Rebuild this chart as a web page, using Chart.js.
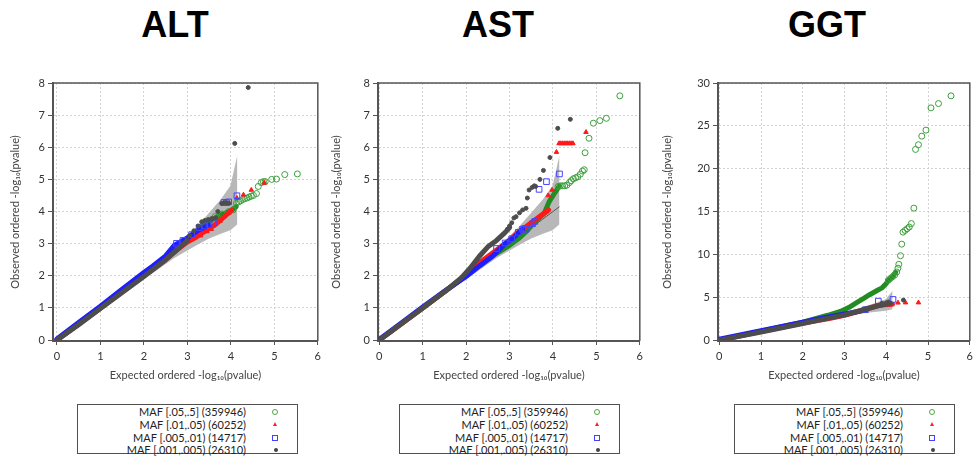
<!DOCTYPE html>
<html><head><meta charset="utf-8">
<script src="https://cdn.jsdelivr.net/npm/chart.js@4.4.0/dist/chart.umd.min.js"></script>
<style>
html,body{margin:0;padding:0;background:#fff;}
body{width:978px;height:457px;overflow:hidden;position:relative;font-family:Lato,'Open Sans',sans-serif;}
.ttl{position:absolute;top:7px;width:200px;text-align:center;font:bold 36px 'Liberation Sans',Arial,sans-serif;line-height:36px;color:#000;}
canvas{position:absolute;top:0;}
.leg{position:absolute;top:404px;width:219px;height:48px;border:1.5px solid #505050;background:#fff;}
.row{position:absolute;left:0;width:100%;height:13px;}
.row span{position:absolute;right:51px;top:0;font-size:11px;line-height:13px;color:#222;white-space:nowrap;}
.mk{position:absolute;box-sizing:border-box;}
.mk.g{left:194px;top:4px;width:6px;height:6px;border:1px solid #4aa84a;border-radius:50%;}
.mk.r{left:195px;top:4px;width:0;height:0;border-left:2.5px solid transparent;border-right:2.5px solid transparent;border-bottom:4px solid #ff2020;}
.mk.b{left:194px;top:4px;width:6px;height:6px;border:1px solid #4040ff;}
.mk.k{left:195.5px;top:5px;width:4px;height:4px;border-radius:50%;background:#444;}
</style>
</head><body>
<div class="ttl" style="left:75px">ALT</div>
<div class="ttl" style="left:398px">AST</div>
<div class="ttl" style="left:727px">GGT</div>
<canvas id="c1" width="326" height="395" style="left:0"></canvas>
<canvas id="c2" width="328" height="395" style="left:320px"></canvas>
<canvas id="c3" width="328" height="395" style="left:650px"></canvas>
<div id="legends"></div>
<script>
// ---------- axis ticks ----------
const X_TICKS = [0, 1, 2, 3, 4, 5, 6];
const Y_TICKS_8 = [0, 1, 2, 3, 4, 5, 6, 7, 8];
const Y_TICKS_30 = [0, 5, 10, 15, 20, 25, 30];

// ---------- legend ----------
const LEGEND_LABELS = ['MAF [.05,.5] (359946)', 'MAF [.01,.05) (60252)', 'MAF [.005,.01) (14717)', 'MAF [.001,.005) (26310)'];
const PANEL_TITLES = ['ALT', 'AST', 'GGT'];

// ---------- 95% confidence band (expected) ----------
const BAND_X  = [0, 1, 2, 2.2, 2.7, 3.2, 3.5, 3.77, 3.99, 4.15];
const BAND_UP = [0, 1.05, 2.1, 2.3, 2.86, 3.5, 3.96, 4.38, 4.8, 5.75];
const BAND_LO = [0, 0.95, 1.93, 2.08, 2.55, 2.94, 3.16, 3.31, 3.42, 3.6];
const EXPECTED = [[0, 0], [4.15, 4.15]];

// ---------- ALT ----------
const altGreenPath = [[0,0],[1,1.0],[2,2.02],[2.5,2.52],[3.0,3.1],[3.4,3.6],[3.7,3.85],[4.0,4.02],[4.12,4.15]];
const altGreenPts  = [[3.64,3.84],[3.8,3.92],[3.95,4.0],[4.05,4.05],[4.13,4.26],[4.18,4.3],[4.22,4.33],[4.27,4.37],[4.32,4.4],[4.37,4.42],[4.42,4.45],[4.47,4.48],[4.52,4.5],[4.59,4.56],[4.63,4.78],[4.7,4.9],[4.75,4.93],[4.79,4.93],[4.94,5.0],[5.05,5.01],[5.24,5.15],[5.53,5.17]];
const altRedPath   = [[0,0],[1,1.0],[2,2.0],[2.5,2.5],[2.8,2.85],[3.0,3.05],[3.2,3.2],[3.4,3.38],[3.6,3.55],[3.8,3.78],[4.0,4.02]];
const altRedPts    = [[3.3,3.25],[3.45,3.38],[3.55,3.45],[3.65,3.6],[3.75,3.7],[3.85,3.85],[3.95,3.95],[4.02,4.05],[4.14,4.42],[4.29,4.52],[4.47,4.67],[4.77,4.89]];
const altBluePath  = [[0,0.03],[0.5,0.55],[1,1.05],[1.5,1.58],[2,2.1],[2.2,2.3],[2.5,2.62],[2.7,2.95],[2.8,3.02],[3.0,3.18],[3.25,3.42],[3.5,3.58]];
const altBluePts   = [[2.75,3.01],[2.9,3.1],[3.1,3.28],[3.27,3.5],[3.4,3.55],[3.5,3.6],[3.6,3.65],[3.84,4.28],[3.9,4.28],[3.95,4.3],[4.14,4.49]];
const altGrayPath  = [[0,0],[0.5,0.48],[1,0.98],[1.5,1.48],[2,1.98],[2.5,2.5],[2.8,2.85],[3.0,3.1]];
const altGrayPts   = [[3.05,3.25],[3.15,3.4],[3.25,3.55],[3.33,3.68],[3.4,3.72],[3.48,3.75],[3.56,3.78],[3.65,3.8],[3.7,4.0],[3.79,4.25],[3.85,4.27],[3.9,4.27],[3.95,4.26],[4.09,6.12],[4.4,7.86]];

// ---------- AST ----------
const astGreenPath = [[0,0],[1,1.0],[2,2.0],[2.4,2.45],[2.7,2.7],[3.0,2.95],[3.2,3.15],[3.4,3.4],[3.6,3.7],[3.8,3.95],[3.91,4.3],[4.05,4.6],[4.15,4.8]];
const astGreenPts  = [[4.12,4.78],[4.17,4.8],[4.22,4.8],[4.27,4.8],[4.32,4.82],[4.38,4.9],[4.42,4.96],[4.47,5.02],[4.52,5.05],[4.57,5.08],[4.63,5.16],[4.68,5.26],[4.72,5.3],[4.74,5.83],[4.83,6.28],[4.93,6.75],[5.08,6.83],[5.23,6.9],[5.54,7.6]];
const astRedPath   = [[0,0],[1,1.0],[2,2.02],[2.2,2.3],[2.4,2.5],[2.6,2.7],[2.8,2.9],[3.0,3.1],[3.2,3.35],[3.4,3.55],[3.6,3.75],[3.8,3.95],[3.9,4.05]];
const astRedPts    = [[3.5,3.65],[3.65,3.8],[3.75,3.9],[3.85,4.0],[3.89,4.5],[3.98,4.67],[4.08,5.85],[4.14,6.12],[4.18,6.12],[4.22,6.12],[4.26,6.12],[4.3,6.12],[4.34,6.12],[4.38,6.12],[4.42,6.12],[4.46,6.12],[4.76,6.47]];
const astBluePath  = [[0,0.02],[0.5,0.52],[1,1.03],[1.5,1.52],[2,1.98],[2.3,2.3],[2.6,2.6],[2.9,3.0],[3.1,3.2],[3.3,3.45]];
const astBluePts   = [[2.7,2.85],[2.9,3.02],[3.05,3.15],[3.2,3.35],[3.3,3.45],[3.35,3.47],[3.38,3.45],[3.53,3.62],[3.58,3.69],[3.68,4.69],[3.85,4.93],[4.15,5.17]];
const astGrayPath  = [[0,0],[0.5,0.5],[1,1.0],[1.5,1.5],[1.9,1.95],[2.1,2.25],[2.3,2.6],[2.5,2.9],[2.7,3.1],[2.9,3.35],[3.0,3.5]];
const astGrayPts   = [[2.95,3.45],[3.0,3.55],[3.05,3.65],[3.1,3.8],[3.15,3.84],[3.23,3.96],[3.3,4.05],[3.38,4.1],[3.41,4.42],[3.45,4.67],[3.52,4.75],[3.57,4.8],[3.6,4.78],[3.7,5.0],[3.78,5.28],[3.93,5.68],[4.11,6.59],[4.4,6.87]];

// ---------- GGT ----------
const ggtGreenPath = [[0,0],[1,1.05],[2,2.1],[2.6,2.9],[2.9,3.35],[3.1,3.8],[3.3,4.4],[3.45,4.85],[3.6,5.3],[3.8,5.85],[3.9,6.1],[4.0,6.6],[4.05,7.0],[4.15,7.4],[4.22,7.9]];
const ggtGreenPts  = [[4.05,7.0],[4.1,7.2],[4.15,7.4],[4.2,7.6],[4.25,7.95],[4.28,8.4],[4.30,8.85],[4.34,9.85],[4.37,11.2],[4.4,12.6],[4.45,12.8],[4.5,13.0],[4.55,13.2],[4.6,13.6],[4.66,15.4],[4.70,22.25],[4.77,22.8],[4.85,23.8],[4.95,24.5],[5.07,27.1],[5.25,27.6],[5.55,28.5]];
const ggtRedPath   = [[0,0],[1,1.0],[2,2.0],[2.6,2.5],[3.0,2.9],[3.3,3.3],[3.6,3.75],[3.85,4.1],[4.15,4.2]];
const ggtRedPts    = [[3.9,4.15],[4.0,4.2],[4.1,4.2],[4.28,4.36],[4.46,4.38],[4.77,4.38]];
const ggtBluePath  = [[0,0.1],[1,1.1],[2,2.1],[2.5,2.6],[3.0,3.05],[3.5,3.5]];
const ggtBluePts   = [[3.5,3.55],[3.81,4.55],[4.16,4.75]];
const ggtGrayPath  = [[0,0],[1,0.95],[2,1.95],[2.5,2.45],[3.0,2.95],[3.5,3.6],[3.8,4.0],[4.1,4.3]];
const ggtGrayPts   = [[3.9,4.3],[4.0,4.35],[4.05,4.45],[4.41,4.67]];

// ---------- styles ----------
const COL = {green:'#3c9f3c', greenD:'#228b22', red:'#ff1a1a', blue:'#4646ff', blueD:'#1e1eff', gray:'#4d4d4d', band:'#b8b8b8'};
const pair = (xs, ys) => xs.map((x, i) => [x, ys[i]]);
const path = (d, c, w, o) => ({data:d, showLine:true, borderColor:c, borderWidth:w, pointRadius:0, fill:false, order:o, borderCapStyle:'round', borderJoinStyle:'round', tension:0});
const pts = (d, style, r, border, bg, o) => ({data:d, showLine:false, pointStyle:style, pointRadius:r, pointBorderWidth:1, pointBorderColor:border, pointBackgroundColor:bg, order:o});

const framePlugin = {id:'frame', afterDatasetsDraw(chart){
  const {ctx, chartArea:a} = chart;
  ctx.save(); ctx.strokeStyle = '#555'; ctx.lineWidth = 1.5;
  ctx.beginPath(); ctx.moveTo(a.left, a.top); ctx.lineTo(a.right, a.top); ctx.lineTo(a.right, a.bottom); ctx.stroke();
  ctx.restore();
}};

function makePanel(id, s, cfg){
  const H = 395;
  const datasets = [
    {data: pair(BAND_X, BAND_LO), showLine:true, borderColor:'rgba(0,0,0,0)', borderWidth:1, pointRadius:0, fill:false, order:30},
    {data: pair(BAND_X, BAND_UP), showLine:true, borderColor:'rgba(0,0,0,0)', borderWidth:1, pointRadius:0, fill:'-1', backgroundColor:COL.band, order:30},
    {data: EXPECTED, showLine:true, borderColor:'#555', borderWidth:1, pointRadius:0, fill:false, order:29},
    path(s.greenPath, COL.greenD, 5, 20), pts(s.greenPts, 'circle', 3, COL.green, 'rgba(0,0,0,0)', 19),
    path(s.redPath, COL.red, 5, 18), pts(s.redPts, 'triangle', 2.6, COL.red, COL.red, 17),
    path(s.bluePath, COL.blueD, 5, 16), pts(s.bluePts, 'rect', 4, COL.blue, 'rgba(0,0,0,0)', 15),
    path(s.grayPath, COL.gray, 5, 14), pts(s.grayPts, 'circle', 2, COL.gray, COL.gray, 13)
  ];
  const font = {family:'Lato', size:11};
  return new Chart(document.getElementById(id), {
    type:'line',
    data:{datasets},
    options:{
      responsive:false, animation:false, events:[],
      layout:{padding:{left:0, right:cfg.rp, top:83, bottom:0}},
      plugins:{legend:{display:false}, tooltip:{enabled:false}},
      scales:{
        x:{type:'linear', min:cfg.xmin, max:6,
          afterBuildTicks: sc => { sc.ticks = X_TICKS.map(v => ({value:v})); },
          afterFit: sc => { sc.height = H - 341; },
          grid:{color:'#d2d2d2', lineWidth:1, drawTicks:true, tickLength:4, tickColor:'#555', tickWidth:1, tickBorderDash:[]},
          border:{display:true, color:'#555', width:2, dash:[2,2]},
          ticks:{color:'#333', font, padding:5, maxRotation:0, callback:v => String(v)},
          title:{display:true, text:'Expected ordered -log\u2081\u2080(pvalue)', color:'#444', font, padding:{top:0, bottom:13}}
        },
        y:{type:'linear', min:cfg.ymin, max:cfg.ymax,
          afterBuildTicks: sc => { sc.ticks = cfg.yTicks.map(v => ({value:v})); },
          afterFit: sc => { sc.width = cfg.yw; },
          grid:{color:'#d2d2d2', lineWidth:1, drawTicks:true, tickLength:5, tickColor:'#555', tickWidth:1, tickBorderDash:[]},
          border:{display:true, color:'#555', width:2, dash:[2,2]},
          ticks:{color:'#333', font, padding:3, callback:v => String(v)},
          title:{display:true, text:'Observed ordered -log\u2081\u2080(pvalue)', color:'#444', font, padding:{top:cfg.tp, bottom:0}}
        }
      }
    },
    plugins:[framePlugin]
  });
}

makePanel('c1', {greenPath:altGreenPath, greenPts:altGreenPts, redPath:altRedPath, redPts:altRedPts, bluePath:altBluePath, bluePts:altBluePts, grayPath:altGrayPath, grayPts:altGrayPts},
  {rp:6, yw:53, xmin:-0.09, ymin:-0.03, ymax:8, yTicks:Y_TICKS_8, tp:8.8});
makePanel('c2', {greenPath:astGreenPath, greenPts:astGreenPts, redPath:astRedPath, redPts:astRedPts, bluePath:astBluePath, bluePts:astBluePts, grayPath:astGrayPath, grayPts:astGrayPts},
  {rp:6, yw:58, xmin:-0.03, ymin:-0.03, ymax:8, yTicks:Y_TICKS_8, tp:9.8});
makePanel('c3', {greenPath:ggtGreenPath, greenPts:ggtGreenPts, redPath:ggtRedPath, redPts:ggtRedPts, bluePath:ggtBluePath, bluePts:ggtBluePts, grayPath:ggtGrayPath, grayPts:ggtGrayPts},
  {rp:5, yw:68, xmin:-0.03, ymin:-0.1, ymax:30, yTicks:Y_TICKS_30, tp:10.8});

// ---------- legends (HTML) ----------
const LEG_LEFT = [77, 399, 734];
const MK = ['g', 'r', 'b', 'k'];
const ROW_TOP = [0, 13, 26, 38];
const host = document.getElementById('legends');
LEG_LEFT.forEach(l => {
  const box = document.createElement('div');
  box.className = 'leg'; box.style.left = l + 'px';
  LEGEND_LABELS.forEach((t, i) => {
    const row = document.createElement('div');
    row.className = 'row'; row.style.top = ROW_TOP[i] + 'px';
    const sp = document.createElement('span'); sp.textContent = t; row.appendChild(sp);
    const m = document.createElement('div'); m.className = 'mk ' + MK[i]; row.appendChild(m);
    box.appendChild(row);
  });
  host.appendChild(box);
});
</script>
</body></html>
